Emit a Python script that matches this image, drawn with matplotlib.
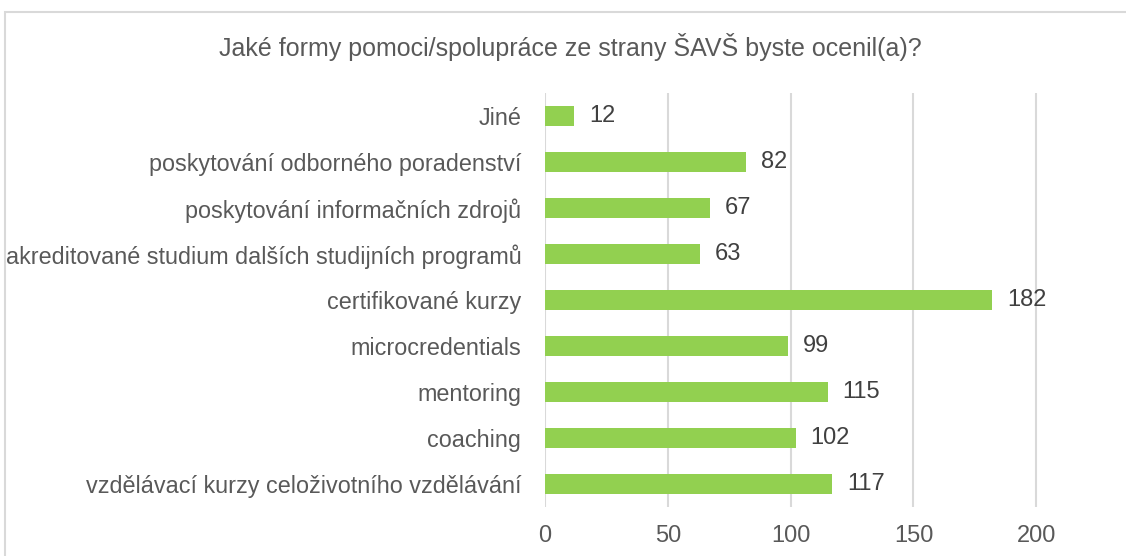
import matplotlib.pyplot as plt
from matplotlib.patches import Rectangle

plt.rcParams['font.family'] = ['Liberation Sans', 'DejaVu Sans']

categories = [
    "vzdělávací kurzy celoživotního vzdělávání",
    "coaching",
    "mentoring",
    "microcredentials",
    "certifikované kurzy",
    "akreditované studium dalších studijních programů",
    "poskytování informačních zdrojů",
    "poskytování odborného poradenství",
    "Jiné",
]
counts = [117, 102, 115, 99, 182, 63, 67, 82, 12]
x_ticks = [0, 50, 100, 150, 200]

title = "Jaké formy pomoci/spolupráce ze strany ŠAVŠ byste ocenil(a)?"
text_color = "#595959"
grid_color = "#D9D9D9"
bar_color = "#92D050"

fig = plt.figure(figsize=(11.26, 5.56), dpi=100)
ax = fig.add_axes([0.484, 0.088, 0.48, 0.745])

# chart border, cut off at right and bottom like the screenshot
fig.patches.append(Rectangle((5 / 1126, -0.1), 1.2, 1 - 12 / 556 + 0.1,
                             transform=fig.transFigure, fill=False,
                             edgecolor=grid_color, linewidth=1.5))

y = range(len(categories))
ax.barh(y, counts, height=0.42, color=bar_color, zorder=3)
for i, v in enumerate(counts):
    ax.text(v + 6, i, str(v), va='center', ha='left', fontsize=17, color="#404040")

ax.set_xlim(0, 220)
ax.set_ylim(-0.5, len(categories) - 0.5)
ax.set_xticks(x_ticks)
ax.set_yticks(list(y))
ax.set_yticklabels(categories)
ax.tick_params(axis='y', length=0, pad=17, labelsize=16.8, labelcolor=text_color)
ax.tick_params(axis='x', length=0, pad=13, labelsize=17, labelcolor=text_color)
ax.grid(axis='x', color=grid_color, linewidth=1.5, zorder=0)
for s in ax.spines.values():
    s.set_visible(False)

fig.text(0.5065, 1 - 47 / 556, title, ha='center', va='center', fontsize=18, color=text_color)

fig.savefig("out.png", dpi=100)
